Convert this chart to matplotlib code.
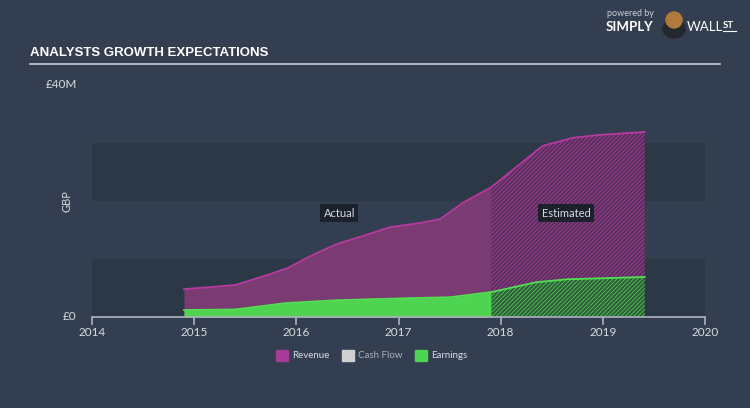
import matplotlib
matplotlib.use("Agg")
import matplotlib.pyplot as plt
from matplotlib.patches import Rectangle, Ellipse

plt.rcParams['font.family'] = ['Lato', 'DejaVu Sans']
plt.rcParams['hatch.linewidth'] = 0.7

# Data (GBP millions)
rev_actual_t = [2014.90, 2015.40, 2015.71, 2015.91, 2016.16, 2016.40, 2016.62, 2016.92, 2017.21, 2017.41, 2017.63, 2017.91]
rev_actual_v = [4.8, 5.5, 7.2, 8.4, 10.7, 12.6, 13.8, 15.5, 16.2, 16.9, 19.7, 22.4]
rev_est_t = [2017.91, 2018.41, 2018.71, 2018.97, 2019.41]
rev_est_v = [22.4, 29.5, 30.9, 31.4, 31.9]

earn_actual_t = [2014.90, 2015.40, 2015.90, 2016.40, 2017.21, 2017.50, 2017.91]
earn_actual_v = [1.2, 1.3, 2.4, 2.9, 3.3, 3.4, 4.3]
earn_est_t = [2017.91, 2018.35, 2018.65, 2019.41]
earn_est_v = [4.3, 6.0, 6.5, 6.9]

years = [2014, 2015, 2016, 2017, 2018, 2019, 2020]
legend_names = ['Revenue', 'Cash Flow', 'Earnings']

bg = '#333f50'
band = '#2d3847'
rev_line = '#b83aa0'
rev_fill = '#7a3a72'
rev_est_fill = '#55305c'
rev_hatch = '#9e3a8e'
earn_line = '#52e052'
earn_fill = '#4fd452'
earn_est_fill = '#2f5a3c'
earn_hatch = '#4cc04e'
txt = '#d7dbe0'

W, H = 750, 408
fig = plt.figure(figsize=(7.5, 4.08), dpi=100)
fig.patch.set_facecolor(bg)
ax = fig.add_axes([92/W, 1-317/H, (705-92)/W, (317-85)/H])
ax.set_facecolor(bg)
ax.set_xlim(2014, 2020)
ax.set_ylim(0, 40)

# alternating bands
ax.axhspan(0, 10, color=band, zorder=0, lw=0)
ax.axhspan(20, 30, color=band, zorder=0, lw=0)

# revenue
ax.fill_between(rev_actual_t, 0, rev_actual_v, color=rev_fill, lw=0, zorder=1)
ax.fill_between(rev_est_t, 0, rev_est_v, facecolor=rev_est_fill, edgecolor=rev_hatch,
                hatch='////////', lw=0, zorder=1)
ax.plot(rev_actual_t + rev_est_t[1:], rev_actual_v + rev_est_v[1:], color=rev_line, lw=1.3, zorder=3)

# earnings
ax.fill_between(earn_actual_t, 0, earn_actual_v, color=earn_fill, lw=0, zorder=2)
ax.fill_between(earn_est_t, 0, earn_est_v, facecolor=earn_est_fill, edgecolor=earn_hatch,
                hatch='////////', lw=0, zorder=2)
ax.plot(earn_actual_t + earn_est_t[1:], earn_actual_v + earn_est_v[1:], color=earn_line, lw=1.3, zorder=3)

for s in ['top', 'right', 'left']:
    ax.spines[s].set_visible(False)
ax.spines['bottom'].set_color('#aab3bd')
ax.spines['bottom'].set_linewidth(1.2)
ax.set_xticks(years)
ax.set_xticklabels([str(y) for y in years])
ax.tick_params(axis='x', colors='#aab3bd', length=6, width=1.2, labelsize=8.5, labelcolor=txt, pad=1)
ax.set_yticks([])

ax.text(-0.025, 0, '£0', transform=ax.get_yaxis_transform(), ha='right', va='center', fontsize=8.5, color=txt)
ax.text(-0.025, 40, '£40M', transform=ax.get_yaxis_transform(), ha='right', va='center', fontsize=8.5, color=txt)
ax.text(-0.04, 20, 'GBP', transform=ax.get_yaxis_transform(), ha='center', va='center',
        rotation=90, fontsize=8, color=txt)

box = dict(boxstyle='square,pad=0.3', fc='#1c222b', ec='none')
ax.text(2016.42, 17.9, 'Actual', ha='center', va='center', fontsize=8, color=txt, bbox=box, zorder=5)
ax.text(2018.64, 17.9, 'Estimated', ha='center', va='center', fontsize=8, color=txt, bbox=box, zorder=5)

# title and rule
fig.text(30/W, 1-53/H, 'ANALYSTS GROWTH EXPECTATIONS', ha='left', va='center', fontsize=9.5,
         fontweight='bold', color='white', family=['Liberation Sans', 'DejaVu Sans'])
fig.add_artist(plt.Line2D([30/W, 720/W], [1-64/H, 1-64/H], color='#c8ced6', lw=1.2))

# brand
fig.text(607/W, 1-14/H, 'powered by', ha='left', va='center', fontsize=6.5, color='#c8ced6')
fig.text(606/W, 1-27/H, 'SIMPLY', ha='left', va='center', fontsize=9.5, fontweight='bold', color='white')
fig.add_artist(Ellipse((674/W, 1-29/H), 22/W, 18/H, color='#23272e', transform=fig.transFigure))
fig.add_artist(Ellipse((674/W, 1-20/H), 16/W, 16/H, color='#b07a3a', transform=fig.transFigure))
fig.text(687/W, 1-27/H, 'WALL', ha='left', va='center', fontsize=9.5, color='white')
fig.text(723/W, 1-25/H, 'ST', ha='left', va='center', fontsize=7, fontweight='bold', color='white')
fig.add_artist(plt.Line2D([723/W, 736/W], [1-31/H, 1-31/H], color='white', lw=0.8))

# legend
legend_colors = ['#a83a98', '#d0d0d0', '#4fd452']
legend_x = [276, 342, 415]
legend_tc = [txt, '#a9b0b8', txt]
for name, c, x, tc in zip(legend_names, legend_colors, legend_x, legend_tc):
    fig.add_artist(Rectangle((x/W, 1-361/H), 12/W, 11/H, color=c, transform=fig.transFigure))
    fig.text((x+16)/W, 1-356/H, name, ha='left', va='center', fontsize=7, color=tc)

fig.savefig('out.png', dpi=100, facecolor=bg)
